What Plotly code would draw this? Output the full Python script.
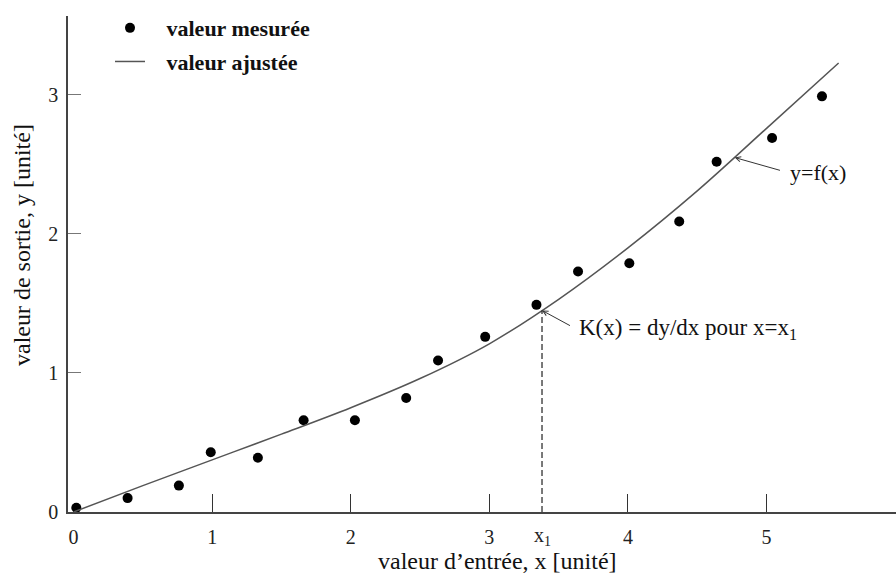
import plotly.graph_objects as go

# Measured values (valeur mesurée)
x_mes = [0.02, 0.39, 0.76, 0.99, 1.33, 1.66, 2.03, 2.40, 2.63, 2.97, 3.34, 3.64, 4.01, 4.37, 4.64, 5.04, 5.40]
y_mes = [0.03, 0.10, 0.19, 0.43, 0.39, 0.66, 0.66, 0.82, 1.09, 1.26, 1.49, 1.73, 1.79, 2.09, 2.52, 2.69, 2.99]

# Fitted curve (valeur ajustée)
x_fit = [0.0, 0.5, 1.0, 1.5, 2.0, 2.5, 3.0, 3.5, 4.0, 4.5, 5.0, 5.52]
y_fit = [0.0, 0.19, 0.375, 0.56, 0.75, 0.96, 1.21, 1.53, 1.90, 2.31, 2.76, 3.23]

# Point x1 and its value on the curve
x1 = 3.38
y_x1 = 1.45
# Point on the curve where the y=f(x) label points
x_f = 4.77
y_f = 2.55

x_tick_vals = [0, 1, 2, 3, 4, 5]
x_tick_text = ["0", "1", "2", "3", "4", "5"]
x_minor_ticks = [1, 2, 3, 4, 5]
y_tick_vals = [0, 1, 2, 3]
y_tick_text = ["0", "1", "2", "3"]

SERIF = "Liberation Serif, Times New Roman, serif"
PAD = "\u00a0\u00a0\u00a0"

fig = go.Figure()
fig.add_trace(go.Scatter(
    x=x_mes, y=y_mes, mode="markers", name=PAD + "<b>valeur mesurée</b>",
    marker=dict(color="black", size=10), cliponaxis=False, legendgroup="a",
))
fig.add_trace(go.Scatter(
    x=x_fit, y=y_fit, mode="lines", name=PAD + "<b>valeur ajustée</b>",
    line=dict(color="#555555", width=1.5, shape="spline"), legendgroup="b",
))
fig.add_trace(go.Scatter(
    x=[x1, x1], y=[0, y_x1], mode="lines", showlegend=False,
    line=dict(color="#222222", width=1.2, dash="6px,3px"), hoverinfo="skip",
))

fig.update_layout(
    width=896, height=575,
    margin=dict(l=68, r=0, t=16, b=63),
    plot_bgcolor="white", paper_bgcolor="white",
    font=dict(family=SERIF, color="#111111"),
    showlegend=True,
    legend=dict(
        x=(110 - 68) / 828, xanchor="left", y=1.018, yanchor="top",
        traceorder="grouped", tracegroupgap=2,
        font=dict(family=SERIF, size=22, color="#111111"),
        bgcolor="rgba(0,0,0,0)",
    ),
    xaxis=dict(
        range=[-0.04, 5.934], showline=True, linecolor="#444444", linewidth=1.5,
        showgrid=False, zeroline=False,
        tickmode="array", tickvals=x_tick_vals, ticktext=x_tick_text, ticks="",
        tickfont=dict(family=SERIF, size=20, color="#222222"),
        ticklabelstandoff=6,
        minor=dict(tickmode="array", tickvals=x_minor_ticks, ticks="inside",
                   ticklen=18, tickwidth=1.2, tickcolor="#333333", showgrid=False),
    ),
    yaxis=dict(
        range=[0, 3.568], showline=True, linecolor="#444444", linewidth=1.5,
        showgrid=False, zeroline=False,
        tickmode="array", tickvals=y_tick_vals, ticktext=y_tick_text,
        ticks="inside", ticklen=13, tickwidth=1.2, tickcolor="#777777",
        tickfont=dict(family=SERIF, size=20, color="#222222"),
        ticklabelstandoff=4,
    ),
)

annotations = [
    # x1 label under the dashed line
    dict(x=x1, y=0, xref="x", yref="y", text="x<sub>1</sub>", showarrow=False,
         yanchor="middle", yshift=-24, font=dict(family=SERIF, size=20, color="#222222")),
    # slope label with arrow to the point (x1, f(x1))
    dict(x=x1, y=y_x1, xref="x", yref="y", text="K(x) = dy/dx pour x=x<sub>1</sub>",
         showarrow=True, ax=35, ay=19, xanchor="left", yanchor="middle",
         arrowhead=5, arrowsize=1, arrowwidth=1, arrowcolor="#333333",
         startstandoff=8, font=dict(family=SERIF, size=23, color="#111111")),
    # curve label with arrow
    dict(x=x_f, y=y_f, xref="x", yref="y", text="y=f(x)",
         showarrow=True, ax=53, ay=15, xanchor="left", yanchor="middle",
         arrowhead=5, arrowsize=1, arrowwidth=1, arrowcolor="#333333",
         startstandoff=8, font=dict(family=SERIF, size=22, color="#111111")),
    # axis titles
    dict(x=(497 - 68) / 828, y=(512 - 561) / 496, xref="paper", yref="paper",
         text="valeur d’entrée, x [unité]", showarrow=False,
         xanchor="center", yanchor="middle",
         font=dict(family=SERIF, size=24, color="#111111")),
    dict(x=(22 - 68) / 828, y=(512 - 245) / 496, xref="paper", yref="paper",
         text="valeur de sortie, y [unité]", showarrow=False, textangle=-90,
         xanchor="center", yanchor="middle",
         font=dict(family=SERIF, size=24, color="#111111")),
]
fig.update_layout(annotations=annotations)

fig.write_html("out.html", config={"displayModeBar": False},
               post_script="document.body.style.margin='0';")
